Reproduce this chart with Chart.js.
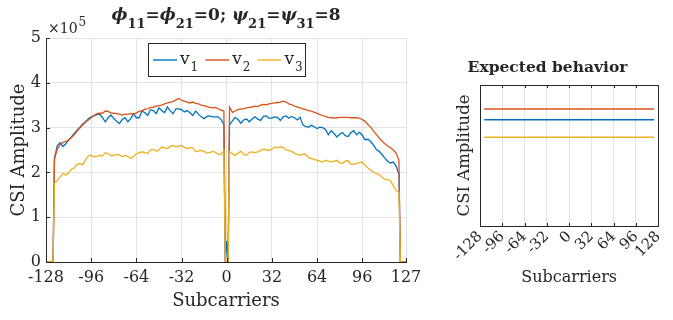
<!DOCTYPE html>
<html><head><meta charset="utf-8">
<script src="https://cdn.jsdelivr.net/npm/chart.js@4"></script>
<style>
html,body{margin:0;padding:0;background:#fff;overflow:hidden}
#wrap{position:relative;width:673px;height:320px;background:#fff}
#c1{position:absolute;left:0;top:0;width:430px;height:320px}
#c2{position:absolute;left:430px;top:0;width:243px;height:320px}
</style></head><body>
<div id="wrap"><canvas id="c1" width="430" height="320"></canvas><canvas id="c2" width="243" height="320"></canvas></div>
<script>
// ---------------- DATA (CSI amplitude in units of 10^5) ----------------
const subcarriers = [-128,-123,
 -122,-120,-118,-116,-114,-112,-110,-108,-106,-104,-102,-100,-98,-96,-94,-92,-90,-88,-86,-84,
 -82,-80,-78,-76,-74,-72,-70,-68,-66,-64,-62,-60,-58,-56,-54,-52,-50,-48,-46,-44,
 -42,-40,-38,-36,-34,-32,-30,-28,-26,-24,-22,-20,-18,-16,-14,-12,-10,-8,-6,-4,-2,
 -1,0,1,
 2,4,6,8,10,12,14,16,18,20,22,24,26,28,30,32,34,36,38,40,
 42,44,46,48,50,52,54,56,58,60,62,64,66,68,70,72,74,76,78,80,
 82,84,86,88,90,92,94,96,98,100,102,104,106,108,110,112,114,116,118,120,122,
 123,127];
const v1 = [0,0,
 2.31,2.60,2.66,2.58,2.64,2.72,2.79,2.87,2.94,3.01,3.08,3.13,3.20,3.24,3.26,3.29,3.30,3.22,3.13,3.22,
 3.28,3.20,3.14,3.09,3.18,3.22,3.13,3.20,3.31,3.22,3.22,3.37,3.33,3.27,3.40,3.38,3.31,3.44,3.38,3.33,
 3.46,3.38,3.31,3.42,3.42,3.40,3.35,3.38,3.33,3.27,3.37,3.30,3.24,3.20,3.25,3.26,3.24,3.24,3.24,3.18,3.07,
 0,0.47,0,
 3.06,3.15,3.23,3.18,3.10,3.17,3.19,3.13,3.19,3.24,3.19,3.16,3.25,3.26,3.21,3.21,3.24,3.23,3.16,3.24,
 3.26,3.21,3.25,3.22,3.17,3.23,3.06,3.02,3.01,3.05,3.02,2.98,3.01,3.00,2.96,2.84,2.93,2.87,2.79,2.85,
 2.89,2.82,2.80,2.89,2.93,2.84,2.90,2.83,2.73,2.74,2.69,2.61,2.51,2.47,2.40,2.32,2.25,2.21,2.23,2.14,1.96,
 0,0];
const v2 = [0,0,
 2.30,2.52,2.62,2.67,2.69,2.72,2.78,2.84,2.92,2.99,3.06,3.12,3.17,3.22,3.27,3.31,3.32,3.32,3.37,3.36,
 3.33,3.32,3.31,3.30,3.28,3.30,3.30,3.31,3.30,3.33,3.36,3.38,3.41,3.42,3.45,3.45,3.48,3.49,3.50,3.53,
 3.55,3.57,3.58,3.62,3.65,3.61,3.59,3.57,3.55,3.57,3.54,3.53,3.50,3.49,3.47,3.45,3.44,3.45,3.42,3.39,3.37,
 0,0,0,
 3.46,3.34,3.37,3.40,3.42,3.42,3.44,3.45,3.46,3.48,3.47,3.50,3.52,3.51,3.53,3.54,3.55,3.56,3.57,3.59,
 3.57,3.53,3.51,3.48,3.46,3.44,3.42,3.40,3.38,3.37,3.34,3.32,3.29,3.27,3.25,3.23,3.22,3.21,3.22,3.23,
 3.23,3.23,3.23,3.22,3.22,3.22,3.21,3.18,3.14,3.07,3.01,2.92,2.85,2.77,2.70,2.64,2.59,2.55,2.50,2.43,2.27,
 0,0];
const v3 = [0,0,
 1.76,1.82,1.90,1.98,1.94,1.99,2.07,2.10,2.18,2.20,2.17,2.28,2.37,2.38,2.35,2.36,2.38,2.37,2.44,2.42,
 2.37,2.38,2.40,2.39,2.35,2.38,2.36,2.31,2.36,2.41,2.44,2.46,2.44,2.42,2.50,2.52,2.47,2.50,2.57,2.55,
 2.53,2.58,2.60,2.57,2.58,2.60,2.56,2.53,2.56,2.55,2.46,2.48,2.49,2.47,2.43,2.44,2.47,2.45,2.40,2.41,2.49,
 0,0,0,
 2.46,2.42,2.38,2.43,2.47,2.40,2.38,2.45,2.46,2.44,2.46,2.49,2.52,2.51,2.49,2.52,2.57,2.55,2.57,2.56,
 2.50,2.49,2.47,2.43,2.40,2.38,2.41,2.40,2.33,2.31,2.29,2.27,2.25,2.23,2.27,2.25,2.23,2.25,2.27,2.22,
 2.20,2.25,2.26,2.18,2.18,2.20,2.22,2.23,2.16,2.10,2.05,2.01,1.97,1.95,1.89,1.85,1.84,1.82,1.70,1.60,1.56,
 0,0];
const seriesNames = ['1','2','3'];           // v_1, v_2, v_3
const xTicks = [-128,-96,-64,-32,0,32,64,96,127];
const xTickLabels = ['-128','-96','-64','-32','0','32','64','96','127'];
const yTicks = [0,1,2,3,4,5];
const yExponent = 5;
// Expected behaviour panel
const expectedX = [-122,122];
const expectedV1 = [3.77,3.77];
const expectedV2 = [4.15,4.15];
const expectedV3 = [3.15,3.15];
const expectedTicks = [-128,-96,-64,-32,0,32,64,96,128];

// ---------------- STYLE ----------------
const INK = '#262626';
const GRID = '#e3e3e3';
const COLORS = ['#0072BD','#D95319','#EDB120'];
const FONT = '"DejaVu Serif"';
Chart.defaults.font.family = FONT;
Chart.defaults.color = INK;

const pts = (xs, ys) => xs.map((k,i)=>({x:k, y:ys[i]}));

const titleParts = [
  {t:'ϕ', it:true},{t:'11', sub:true},{t:'='},{t:'ϕ', it:true},{t:'21', sub:true},{t:'=0; '},
  {t:'ψ', it:true},{t:'21', sub:true},{t:'='},{t:'ψ', it:true},{t:'31', sub:true},{t:'=8'}
];

function fontFor(p){
  if (p.sub) return 'bold 13px ' + FONT;
  if (p.it) return 'italic bold 17px ' + FONT;
  return 'bold 17px ' + FONT;
}

const mainDecor = {
  id:'mainDecor',
  afterDraw(chart){
    const {ctx, chartArea:a, scales:{x,y}} = chart;
    ctx.save();
    // inward tick marks
    ctx.strokeStyle = INK; ctx.lineWidth = 1;
    ctx.beginPath();
    x.ticks.forEach(t=>{const p=Math.round(x.getPixelForValue(t.value))+0.5; ctx.moveTo(p,a.bottom); ctx.lineTo(p,a.bottom-4);});
    y.ticks.forEach(t=>{const p=Math.round(y.getPixelForValue(t.value))+0.5; ctx.moveTo(a.left,p); ctx.lineTo(a.left+4,p);});
    ctx.stroke();
    // exponent label
    ctx.fillStyle = INK; ctx.textAlign='left'; ctx.textBaseline='alphabetic';
    ctx.font = '14px ' + FONT;
    ctx.fillText('×10', a.left+2, 33);
    const w = ctx.measureText('×10').width;
    ctx.font = '12px ' + FONT;
    ctx.fillText(String(yExponent), a.left+2+w+1, 26);
    // title with subscripts
    let total = 0;
    titleParts.forEach(p=>{ctx.font=fontFor(p); p.w=ctx.measureText(p.t).width; total+=p.w;});
    let cx = (a.left + a.right)/2 - total/2;
    titleParts.forEach(p=>{ctx.font=fontFor(p); ctx.fillText(p.t, cx, p.sub?28:20); cx+=p.w;});
    // legend
    const bx=148, by=43, bw=157, bh=33;
    ctx.fillStyle='#fff'; ctx.fillRect(bx,by,bw,bh);
    ctx.strokeStyle=INK; ctx.lineWidth=1; ctx.strokeRect(bx+0.5,by+0.5,bw,bh);
    let lx = bx+5;
    const ly = by+17;
    seriesNames.forEach((s,i)=>{
      ctx.strokeStyle=COLORS[i]; ctx.lineWidth=1.4;
      ctx.beginPath(); ctx.moveTo(lx,ly); ctx.lineTo(lx+24,ly); ctx.stroke();
      lx += 27;
      ctx.fillStyle=INK;
      ctx.font='17px '+FONT; ctx.fillText('v', lx, ly+4); lx += ctx.measureText('v').width+1;
      ctx.font='12px '+FONT; ctx.fillText(s, lx, ly+11); lx += ctx.measureText(s).width+7;
    });
    ctx.restore();
  }
};

new Chart(document.getElementById('c1'), {
  type:'line',
  data:{datasets:[
    {label:'v1', data:pts(subcarriers,v1), borderColor:COLORS[0], order:3},
    {label:'v2', data:pts(subcarriers,v2), borderColor:COLORS[1], order:2},
    {label:'v3', data:pts(subcarriers,v3), borderColor:COLORS[2], order:1}
  ]},
  options:{
    responsive:false, animation:false, devicePixelRatio:1,
    elements:{point:{radius:0}, line:{borderWidth:1.3, tension:0}},
    layout:{padding:{left:0,right:24,top:38,bottom:0}},
    plugins:{legend:{display:false}, tooltip:{enabled:false}, title:{display:false}},
    scales:{
      x:{type:'linear', min:-128, max:127,
        afterBuildTicks:s=>{s.ticks = xTicks.map(v=>({value:v}));},
        afterFit:s=>{s.height=58;},
        ticks:{autoSkip:false, maxRotation:0, padding:6, font:{size:16}, color:INK,
          callback:(v)=>xTickLabels[xTicks.indexOf(v)]},
        grid:{color:GRID, drawTicks:false},
        border:{display:true, color:INK, width:1},
        title:{display:true, text:'Subcarriers', font:{size:18}, color:INK, padding:{top:0,bottom:8}}
      },
      y:{min:0, max:5,
        afterBuildTicks:s=>{s.ticks = yTicks.map(v=>({value:v}));},
        afterFit:s=>{s.width=46;},
        ticks:{padding:5, font:{size:16}, color:INK},
        grid:{color:GRID, drawTicks:false},
        border:{display:true, color:INK, width:1},
        title:{display:true, text:'CSI Amplitude', font:{size:18}, color:INK, padding:{top:9,bottom:0}}
      }
    }
  },
  plugins:[mainDecor]
});

const boxDecor = {
  id:'boxDecor',
  afterDraw(chart){
    const {ctx, chartArea:a, scales:{x}} = chart;
    ctx.save();
    ctx.strokeStyle=INK; ctx.lineWidth=1;
    ctx.beginPath();
    x.ticks.forEach(t=>{const p=Math.round(x.getPixelForValue(t.value))+0.5;
      ctx.moveTo(p,a.bottom); ctx.lineTo(p,a.bottom-3);
      ctx.moveTo(p,a.top); ctx.lineTo(p,a.top+3);});
    ctx.stroke();
    ctx.strokeRect(Math.round(a.left)+0.5, Math.round(a.top)+0.5, Math.round(a.right-a.left), Math.round(a.bottom-a.top));
    ctx.restore();
  }
};

new Chart(document.getElementById('c2'), {
  type:'line',
  data:{datasets:[
    {label:'v1', data:pts(expectedX,expectedV1), borderColor:COLORS[0], order:3},
    {label:'v2', data:pts(expectedX,expectedV2), borderColor:COLORS[1], order:2},
    {label:'v3', data:pts(expectedX,expectedV3), borderColor:COLORS[2], order:1}
  ]},
  options:{
    responsive:false, animation:false, devicePixelRatio:1,
    elements:{point:{radius:0}, line:{borderWidth:1.5, tension:0}},
    layout:{padding:{left:0,right:8,top:0,bottom:0}},
    plugins:{legend:{display:false}, tooltip:{enabled:false},
      title:{display:true, text:'Expected behavior', color:INK, font:{size:15.5, weight:'bold'}, padding:{top:59,bottom:7.4}}},
    scales:{
      x:{type:'linear', min:-128, max:128,
        afterBuildTicks:s=>{s.ticks = expectedTicks.map(v=>({value:v}));},
        afterFit:s=>{s.height=94;},
        ticks:{autoSkip:false, minRotation:45, maxRotation:45, padding:2, font:{size:15}, color:INK},
        grid:{color:GRID, drawTicks:false},
        border:{display:true, color:INK, width:1},
        title:{display:true, text:'Subcarriers', font:{size:16}, color:INK, padding:{top:0,bottom:33}}
      },
      y:{min:0, max:5,
        afterFit:s=>{s.width=50;},
        ticks:{display:false},
        grid:{display:false, drawTicks:false},
        border:{display:true, color:INK, width:1},
        title:{display:true, text:'CSI Amplitude', font:{size:16.5}, color:INK, padding:{top:25,bottom:0}}
      }
    }
  },
  plugins:[boxDecor]
});
</script>
</body></html>
